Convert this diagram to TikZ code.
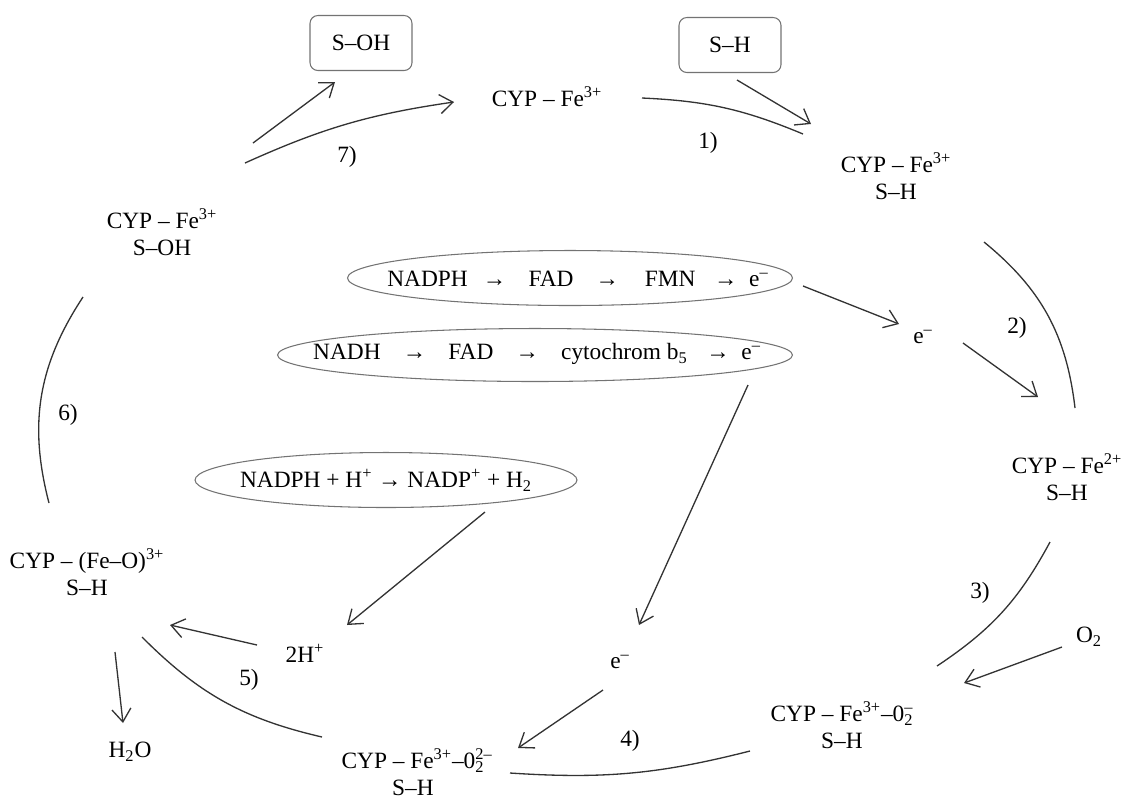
\documentclass[tikz,border=0pt]{standalone}
\usepackage{fontspec}
\setmainfont{Liberation Serif}
\usetikzlibrary{arrows.meta}

\newcommand{\supsub}[2]{\rlap{\textsuperscript{#2}}\textsubscript{#1}}

\tikzset{
  chem/.style={font=\fontsize{13.3}{15.4}\selectfont, align=center, inner sep=1pt},
  subst/.style={chem, draw=black!55, rounded corners=4.5pt, minimum width=2.04cm, minimum height=1.1cm, line width=0.6pt},
  poolline/.style={draw=black!55, line width=0.6pt},
  flow/.style={draw=black!80, line width=0.75pt, -{Straight Barb[length=2.6mm,width=3.8mm]}},
  ring/.style={draw=black!80, line width=0.75pt},
}

\begin{document}
\begin{tikzpicture}[x=0.02cm, y=-0.02cm]
    \useasboundingbox (0,0) rectangle (1125,796);

    % substrate boxes
    \node[subst] (soh) at (361,43) {S–OH};
    \node[subst] (sh) at (730,45) {S–H};

    % states of the cycle
    \node[chem] (fe3) at (547,97) {CYP – Fe\textsuperscript{3+}};
    \node[chem] (fesh) at (896,176) {CYP – Fe\textsuperscript{3+}\\S–H};
    \node[chem] (fe2) at (1067,477) {CYP – Fe\textsuperscript{2+}\\S–H};
    \node[chem] (feo2) at (842,725) {CYP – Fe\textsuperscript{3+}–0\supsub{2}{–}\\S–H};
    \node[chem] (feo22) at (413,772) {CYP – Fe\textsuperscript{3+}–0\supsub{2}{2–}\\S–H};
    \node[chem] (feo) at (87,572) {CYP – (Fe–O)\textsuperscript{3+}\\S–H};
    \node[chem] (feoh) at (162,232) {CYP – Fe\textsuperscript{3+}\\S–OH};

    % electron and proton sources
    \node[chem] (nadph) at (578,279)
        {NADPH\hspace{.65em}→\hspace{.95em}FAD\hspace{.95em}→\hspace{1.1em}FMN\hspace{.8em}→\hspace{.5em}e\textsuperscript{–}};
    \node[chem] (nadh) at (537,354)
        {NADH\hspace{.95em}→\hspace{.95em}FAD\hspace{.95em}→\hspace{.95em}cytochrom b\textsubscript{5}\hspace{.8em}→\hspace{.5em}e\textsuperscript{–}};
    \node[chem] (nadp) at (386,480)
        {NADPH + H\textsuperscript{+} → NADP\textsuperscript{+} + H\textsubscript{2}};
    \draw[poolline] (570,278) ellipse [x radius=4.45cm, y radius=0.55cm];
    \draw[poolline] (535,355) ellipse [x radius=5.15cm, y radius=0.53cm];
    \draw[poolline] (386,480) ellipse [x radius=3.82cm, y radius=0.55cm];

    \node[chem] (ea) at (923,337) {e\textsuperscript{–}};
    \node[chem] (eb) at (620,662) {e\textsuperscript{–}};
    \node[chem] (o2) at (1089,637) {O\textsubscript{2}};
    \node[chem] (hplus) at (305,653) {2H\textsuperscript{+}};
    \node[chem] (water) at (130,752) {H\textsubscript{2}O};

    % step numbers
    \node[chem] (s1) at (708,143) {1)};
    \node[chem] (s2) at (1017,328) {2)};
    \node[chem] (s3) at (980,593) {3)};
    \node[chem] (s4) at (630,741) {4)};
    \node[chem] (s5) at (249,680) {5)};
    \node[chem] (s6) at (68,415) {6)};
    \node[chem] (s7) at (347,157) {7)};

    % ends of the connectors
    \coordinate (c7a) at (245,163);   \coordinate (c7b) at (454,102);
    \coordinate (c1a) at (642,98);    \coordinate (c1b) at (803,134);
    \coordinate (c2a) at (984,242);   \coordinate (c2b) at (1075,408);
    \coordinate (c3a) at (1050,542);  \coordinate (c3b) at (937,666);
    \coordinate (c4a) at (750,751);   \coordinate (c4b) at (510,773);
    \coordinate (c5a) at (322,737);   \coordinate (c5b) at (142,637);
    \coordinate (c6a) at (49,503);    \coordinate (c6b) at (83,297);

    \coordinate (ohout) at (253,143);  \coordinate (ohin) at (335,82);
    \coordinate (shout) at (737,80);   \coordinate (shin) at (811,124);
    \coordinate (e1out) at (803,286);  \coordinate (e1in) at (899,324);
    \coordinate (eaout) at (963,343);  \coordinate (eain) at (1038,397);
    \coordinate (e2out) at (748,385);  \coordinate (e2in) at (639,625);
    \coordinate (ebout) at (603,690);  \coordinate (ebin) at (518,748);
    \coordinate (o2out) at (1062,647); \coordinate (o2in) at (964,683);
    \coordinate (hout) at (485,512);   \coordinate (hin) at (347,625);
    \coordinate (h2out) at (257,645);  \coordinate (h2in) at (170,625);
    \coordinate (wout) at (115,652);   \coordinate (win) at (123,723);

    % the cycle
    \draw[flow] (c7a) to[bend left=8] (c7b);
    \draw[ring] (c1a) to[bend left=10] (c1b);
    \draw[ring] (c2a) to[bend left=22] (c2b);
    \draw[ring] (c3a) to[bend left=14] (c3b);
    \draw[ring] (c4a) to[bend left=9] (c4b);
    \draw[ring] (c5a) to[bend left=16] (c5b);
    \draw[ring] (c6a) to[bend left=24] (c6b);

    % side arrows
    \draw[flow] (ohout) -- (ohin);
    \draw[flow] (shout) -- (shin);
    \draw[flow] (e1out) -- (e1in);
    \draw[flow] (eaout) -- (eain);
    \draw[flow] (e2out) -- (e2in);
    \draw[flow] (ebout) -- (ebin);
    \draw[flow] (o2out) -- (o2in);
    \draw[flow] (hout) -- (hin);
    \draw[flow] (h2out) -- (h2in);
    \draw[flow] (wout) -- (win);
\end{tikzpicture}
\end{document}
